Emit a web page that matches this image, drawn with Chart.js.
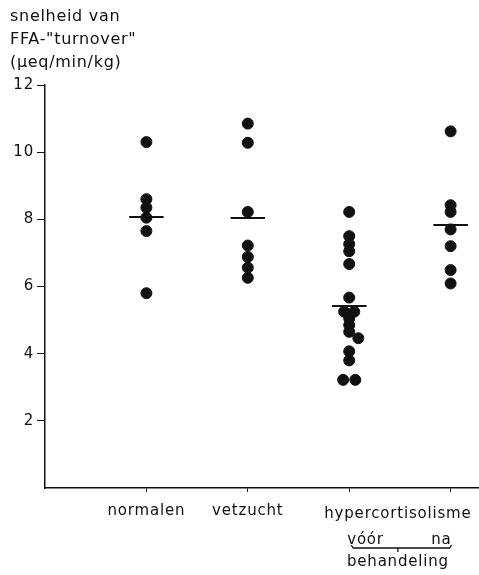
<!DOCTYPE html>
<html>
<head>
<meta charset="utf-8">
<script src="https://cdn.jsdelivr.net/npm/chart.js@4.4.1/dist/chart.umd.min.js"></script>
<style>
  html, body { margin: 0; padding: 0; background: #fff; }
  #wrap { width: 479px; height: 575px; position: relative; }
</style>
</head>
<body>
<div id="wrap"><canvas id="c"></canvas></div>
<script>
// groepen en gemeten waarden (µeq/min/kg)
const groups = ["normalen", "vetzucht", "hypercortisolisme vóór", "hypercortisolisme na"];
const normalen = [10.3, 8.6, 8.35, 8.05, 7.65, 5.8];
const vetzucht = [10.85, 10.28, 8.22, 7.22, 6.88, 6.56, 6.26];
const hyperVoor = [8.22, 7.5, 7.26, 7.05, 6.67, 5.67, 5.25, 5.25, 5.05, 4.85, 4.65, 4.46, 4.07, 3.8, 3.22, 3.22];
const hyperShift = [0, 0, 0, 0, 0, 0, -0.05, 0.05, 0, 0, 0, 0.09, 0, 0, -0.06, 0.06];
const hyperNa = [10.62, 8.42, 8.22, 7.7, 7.2, 6.49, 6.09];
const means = [8.07, 8.04, 5.42, 7.83];
const yTicks = [2, 4, 6, 8, 10, 12];

const FONT = "'DejaVu Sans', sans-serif";
const series = [normalen, vetzucht, hyperVoor, hyperNa];

const datasets = [];
series.forEach((vals, i) => {
    datasets.push({
        type: 'scatter',
        data: vals.map((v, j) => ({ x: i + 1 + (i === 2 ? hyperShift[j] : 0), y: v })),
        backgroundColor: '#111',
        borderColor: '#111',
        pointRadius: 5.5,
        pointHoverRadius: 5.5
    });
    datasets.push({
        type: 'line',
        data: [{ x: i + 1 - 0.17, y: means[i] }, { x: i + 1 + 0.17, y: means[i] }],
        borderColor: '#111',
        borderWidth: 2,
        pointRadius: 0
    });
});

// wat letterafstand, zoals in het origineel
const spacing = {
    id: 'spacing',
    beforeDraw(chart) { chart.ctx.letterSpacing = '0.8px'; }
};

// titel links boven en de onderschrift van hypercortisolisme
const extraText = {
    id: 'extraText',
    afterDraw(chart) {
        const c = chart.ctx;
        const xs = chart.scales.x;
        c.save();
        c.fillStyle = '#111';
        c.letterSpacing = '0.7px';
        c.font = '16px ' + FONT;
        c.textBaseline = 'middle';
        c.textAlign = 'left';
        c.fillText('snelheid van', 10, 17);
        c.fillText('FFA-"turnover"', 10, 40);
        c.fillText('(µeq/min/kg)', 10, 63);

        c.letterSpacing = '0.8px';
        c.font = '15px ' + FONT;
        const x3 = xs.getPixelForValue(3);
        const x4 = xs.getPixelForValue(4);
        const mid = (x3 + x4) / 2;
        c.textAlign = 'center';
        c.fillText('hypercortisolisme', mid - 2, 514);
        c.textAlign = 'left';
        c.fillText('vóór', x3 - 2, 540);
        c.textAlign = 'right';
        c.fillText('na', x4 + 1, 540);
        c.textAlign = 'center';
        c.fillText('behandeling', mid - 2, 562);

        c.strokeStyle = '#111';
        c.lineWidth = 1.3;
        c.beginPath();
        c.moveTo(x3 + 2, 545);
        c.lineTo(x3 + 4, 548);
        c.lineTo(x4 - 1, 548);
        c.lineTo(x4 + 1, 545);
        c.moveTo(mid - 2, 548);
        c.lineTo(mid - 2, 552);
        c.stroke();
        c.restore();
    }
};

new Chart(document.getElementById('c'), {
    data: { datasets: datasets },
    options: {
        responsive: true,
        maintainAspectRatio: false,
        animation: false,
        layout: { autoPadding: false, padding: { top: 85, right: 0, left: 0, bottom: 0 } },
        plugins: {
            legend: { display: false },
            tooltip: { enabled: false }
        },
        scales: {
            x: {
                type: 'linear',
                min: 0,
                max: 4.28,
                afterBuildTicks: (s) => { s.ticks = [1, 2, 3, 4].map(v => ({ value: v })); },
                afterFit: (s) => { s.height = 87; s.paddingLeft = 0; s.paddingRight = 0; },
                grid: { drawOnChartArea: false, tickLength: 4, color: '#111' },
                border: { color: '#111', width: 1.5 },
                ticks: {
                    color: '#111',
                    padding: 10,
                    font: { family: FONT, size: 15 },
                    callback: (v) => (v === 1 ? groups[0] : v === 2 ? groups[1] : '')
                }
            },
            y: {
                min: 0,
                max: 12,
                afterBuildTicks: (s) => { s.ticks = yTicks.map(v => ({ value: v })); },
                afterFit: (s) => { s.width = 45; },
                grid: { drawOnChartArea: false, tickLength: 8, color: '#111' },
                border: { color: '#111', width: 1.5 },
                ticks: {
                    color: '#111',
                    padding: 3,
                    font: { family: FONT, size: 15 }
                }
            }
        }
    },
    plugins: [spacing, extraText]
});
</script>
</body>
</html>
